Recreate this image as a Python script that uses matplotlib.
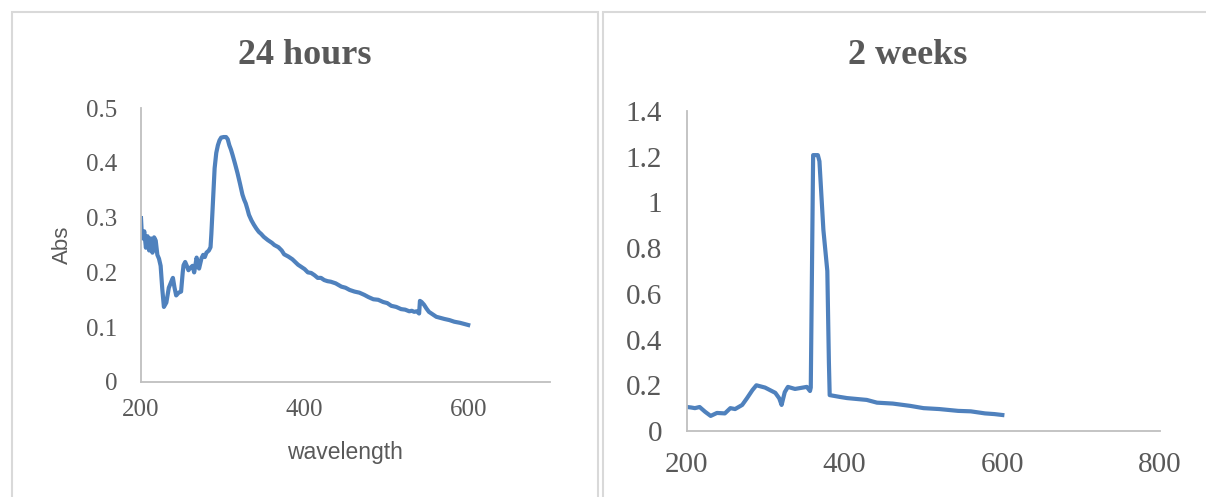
import matplotlib.pyplot as plt
from matplotlib.patches import Rectangle

# 24 hours spectrum (wavelength nm, Abs)
wl_24h = [200, 201, 202, 204, 206, 208, 210, 212, 214, 216, 218, 220, 222, 224, 226, 228,
          231, 234, 237, 239, 241, 243, 246, 249, 251, 252, 254, 256, 258, 260, 263, 265,
          268, 270, 271, 274, 276, 278, 280, 283, 285, 286, 288, 290, 292, 294, 296, 298,
          301, 304, 306, 308, 310, 312, 315, 318, 321, 324, 326, 328, 330, 332, 335, 338,
          341, 344, 347, 350, 355, 360, 363, 368, 372, 375, 380, 385, 392, 396, 400, 404,
          408, 412, 416, 420, 424, 428, 432, 438, 445, 450, 455, 461, 467, 473, 478, 484,
          490, 496, 501, 506, 512, 518, 523, 528, 531, 534, 537, 540, 541, 543, 546, 549,
          552, 556, 561, 566, 571, 577, 583, 590, 595, 600]
abs_24h = [0.299, 0.270, 0.262, 0.275, 0.245, 0.266, 0.240, 0.262, 0.236, 0.264, 0.258, 0.232,
           0.225, 0.212, 0.170, 0.137, 0.145, 0.172, 0.183, 0.190, 0.172, 0.158, 0.163, 0.165,
           0.200, 0.213, 0.219, 0.212, 0.204, 0.208, 0.212, 0.200, 0.227, 0.212, 0.207, 0.226,
           0.232, 0.228, 0.236, 0.240, 0.246, 0.270, 0.330, 0.390, 0.418, 0.432, 0.441, 0.446,
           0.447, 0.447, 0.443, 0.432, 0.424, 0.414, 0.398, 0.381, 0.362, 0.342, 0.333, 0.326,
           0.316, 0.305, 0.295, 0.287, 0.280, 0.274, 0.270, 0.265, 0.259, 0.254, 0.250, 0.246,
           0.240, 0.233, 0.229, 0.224, 0.214, 0.210, 0.206, 0.200, 0.199, 0.195, 0.190, 0.190,
           0.186, 0.184, 0.183, 0.180, 0.174, 0.172, 0.168, 0.165, 0.163, 0.159, 0.155, 0.151,
           0.150, 0.146, 0.144, 0.139, 0.137, 0.133, 0.132, 0.129, 0.130, 0.128, 0.129, 0.125,
           0.148, 0.146, 0.141, 0.134, 0.128, 0.124, 0.119, 0.117, 0.115, 0.113, 0.110, 0.108,
           0.106, 0.104]

# 2 weeks spectrum
wl_2w = [200, 205, 210, 216, 223, 230, 238, 248, 255, 261, 270, 276, 283, 288, 299, 312,
         317, 320, 324, 328, 337, 347, 352, 356, 357, 360, 366, 368, 373, 378, 380, 381,
         394, 403, 428, 441, 461, 483, 500, 520, 544, 560, 578, 590, 600]
abs_2w = [0.105, 0.103, 0.100, 0.105, 0.084, 0.066, 0.079, 0.077, 0.100, 0.096, 0.114, 0.143,
          0.179, 0.200, 0.190, 0.167, 0.143, 0.114, 0.170, 0.193, 0.184, 0.190, 0.193, 0.175,
          0.190, 1.207, 1.207, 1.180, 0.880, 0.700, 0.300, 0.157, 0.149, 0.144, 0.136, 0.124,
          0.120, 0.110, 0.100, 0.096, 0.088, 0.086, 0.077, 0.074, 0.070]

line_col = '#4f81bd'
txt_col = '#595959'
spine_col = '#bfbfbf'
serif = ['Liberation Serif', 'DejaVu Serif']
sans = ['Liberation Sans Narrow', 'Liberation Sans']

fig = plt.figure(figsize=(12.06, 4.97), dpi=100)

# chart area frames
fig.patches.append(Rectangle((12 / 1206, -0.05), 586 / 1206, 1 - 12 / 497 + 0.05,
                             transform=fig.transFigure, fill=False,
                             edgecolor='#d9d9d9', lw=1.5))
fig.patches.append(Rectangle((603 / 1206, -0.05), 0.6, 1 - 12 / 497 + 0.05,
                             transform=fig.transFigure, fill=False,
                             edgecolor='#d9d9d9', lw=1.5))

def style_axes(ax, size, ypad, xpad):
    for side in ['top', 'right']:
        ax.spines[side].set_visible(False)
    for side in ['left', 'bottom']:
        ax.spines[side].set_color(spine_col)
        ax.spines[side].set_linewidth(1.3)
    ax.tick_params(axis='both', length=0, colors=txt_col, labelsize=size)
    ax.tick_params(axis='y', pad=ypad)
    ax.tick_params(axis='x', pad=xpad)
    for lab in ax.get_xticklabels() + ax.get_yticklabels():
        lab.set_family(serif)

# left chart
ax1 = fig.add_axes([141 / 1206, 115 / 497, 409 / 1206, 274 / 497])
ax1.plot(wl_24h, abs_24h, color=line_col, lw=3.0, solid_joinstyle='round')
ax1.set_xlim(200, 700)
ax1.set_ylim(0, 0.5)
ax1.set_xticks([200, 400, 600])
ax1.set_yticks([0, 0.1, 0.2, 0.3, 0.4, 0.5])
ax1.set_yticklabels(['0', '0.1', '0.2', '0.3', '0.4', '0.5'])
style_axes(ax1, 18, 17, 12)
fig.text(305 / 1206, 1 - 55 / 497, '24 hours', ha='center', va='center',
         family=serif, fontsize=26, fontweight='bold', color=txt_col)
fig.text(62 / 1206, 1 - 245 / 497, 'Abs', rotation=90, ha='center', va='center',
         family=sans, fontsize=16, color=txt_col)
fig.text(345 / 1206, 1 - 452 / 497, 'wavelength', ha='center', va='center',
         family=sans, fontsize=16.5, color=txt_col)

# right chart
ax2 = fig.add_axes([687 / 1206, 66 / 497, 473 / 1206, 320 / 497])
ax2.plot(wl_2w, abs_2w, color=line_col, lw=3.0, solid_joinstyle='round')
ax2.set_xlim(200, 800)
ax2.set_ylim(0, 1.4)
ax2.set_xticks([200, 400, 600, 800])
ax2.set_yticks([0, 0.2, 0.4, 0.6, 0.8, 1.0, 1.2, 1.4])
ax2.set_yticklabels(['0', '0.2', '0.4', '0.6', '0.8', '1', '1.2', '1.4'])
style_axes(ax2, 21, 18, 15)
fig.text(908 / 1206, 1 - 55 / 497, '2 weeks', ha='center', va='center',
         family=serif, fontsize=26, fontweight='bold', color=txt_col)

fig.savefig('out.png', dpi=100, facecolor='white')
